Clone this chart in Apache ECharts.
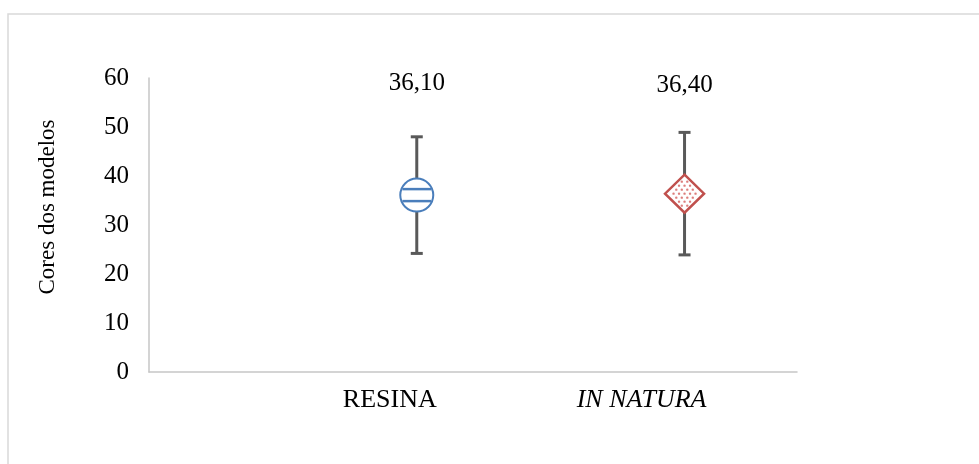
<!DOCTYPE html>
<html>
<head>
<meta charset="utf-8">
<script src="https://cdn.jsdelivr.net/npm/echarts@6/dist/echarts.min.js"></script>
<style>
  html, body { margin: 0; padding: 0; background: #fff; }
  #main { width: 979px; height: 464px; }
</style>
</head>
<body>
<div id="main"></div>
<script>
// dados do gráfico
var categorias = ['RESINA', 'IN NATURA'];
var posicoes = [1, 2];
var medias = [36.10, 36.40];
var minimos = [24.2, 23.9];
var maximos = [48.0, 48.9];
var yTicks = [0, 10, 20, 30, 40, 50, 60];

var serif = "'Times New Roman', 'Liberation Serif', serif";
var myChart = echarts.init(document.getElementById('main'));

var dados = [];
for (var i = 0; i < categorias.length; i++) {
    dados.push([posicoes[i], medias[i], minimos[i], maximos[i]]);
}

function renderItem(params, api) {
    var x = api.value(0);
    var pm = api.coord([x, api.value(1)]);
    var plo = api.coord([x, api.value(2)]);
    var phi = api.coord([x, api.value(3)]);
    var cx = pm[0], cy = pm[1];
    var barStyle = { stroke: '#595959', lineWidth: 3 };
    var children = [
        { type: 'line', shape: { x1: cx, y1: phi[1], x2: cx, y2: plo[1] }, style: barStyle },
        { type: 'line', shape: { x1: cx - 6, y1: phi[1], x2: cx + 6, y2: phi[1] }, style: barStyle },
        { type: 'line', shape: { x1: cx - 6, y1: plo[1], x2: cx + 6, y2: plo[1] }, style: barStyle }
    ];
    if (params.dataIndex === 0) {
        var r = 16.5;
        children.push({ type: 'circle', shape: { cx: cx, cy: cy, r: r },
            style: { fill: '#fff', stroke: '#4a7ebb', lineWidth: 2 } });
        [-6, 6].forEach(function (d) {
            var h = Math.sqrt(r * r - d * d) - 1;
            children.push({ type: 'line', shape: { x1: cx - h, y1: cy + d, x2: cx + h, y2: cy + d },
                style: { stroke: '#4a7ebb', lineWidth: 2.5 } });
        });
    } else {
        var w = 19.5, hh = 19;
        children.push({ type: 'polygon',
            shape: { points: [[cx, cy - hh], [cx + w, cy], [cx, cy + hh], [cx - w, cy]] },
            style: { fill: '#fff', stroke: '#c0504d', lineWidth: 2.5 } });
        for (var j = -4; j <= 4; j++) {
            var off = (j % 2 === 0) ? 0 : 2.75;
            for (var k = -4; k <= 4; k++) {
                var dx = k * 5.5 + off, dy = j * 4;
                if (Math.abs(dx) / w + Math.abs(dy) / hh < 0.8) {
                    children.push({ type: 'circle', shape: { cx: cx + dx, cy: cy + dy, r: 1.2 },
                        style: { fill: '#dc7e7c' } });
                }
            }
        }
    }
    children.push({ type: 'text', x: cx, y: cy - 112 + params.dataIndex * 4,
        style: { text: api.value(1).toFixed(2).replace('.', ','), font: '25px ' + serif,
            fill: '#000', align: 'center', verticalAlign: 'middle' } });
    return { type: 'group', children: children };
}

option = {
    animation: false,
    graphic: [{
        type: 'rect', shape: { x: 8, y: 14, width: 1100, height: 600 },
        style: { fill: 'none', stroke: '#d9d9d9', lineWidth: 1.5 }, silent: true
    }],
    grid: { left: 149, right: 182, top: 78, bottom: 92 },
    xAxis: {
        type: 'value',
        min: 0,
        max: 2.42,
        interval: 1,
        splitLine: { show: false },
        axisTick: { show: false },
        axisLine: { lineStyle: { color: '#c6c6c6', width: 1.5 } },
        axisLabel: {
            showMaxLabel: false,
            margin: 15,
            formatter: function (v) {
                var idx = posicoes.indexOf(v);
                if (idx < 0) return '';
                return (idx === 0 ? '{a|' : '{b|') + categorias[idx] + '}';
            },
            rich: {
                a: { fontFamily: serif, fontSize: 26, color: '#000', padding: [0, 54, 0, 0] },
                b: { fontFamily: serif, fontSize: 26, color: '#000', fontStyle: 'italic', padding: [0, 86, 0, 0] }
            }
        }
    },
    yAxis: {
        type: 'value',
        min: yTicks[0],
        max: yTicks[yTicks.length - 1],
        interval: 10,
        name: 'Cores dos modelos',
        nameLocation: 'middle',
        nameGap: 90,
        nameTextStyle: { fontFamily: serif, fontSize: 23, color: '#000', padding: [0, 0, 0, 36] },
        splitLine: { show: false },
        axisTick: { show: false },
        axisLine: { show: true, lineStyle: { color: '#c6c6c6', width: 1.5 } },
        axisLabel: { fontFamily: serif, fontSize: 25, color: '#000', margin: 20 }
    },
    series: [{
        type: 'custom',
        renderItem: renderItem,
        data: dados,
        z: 5
    }]
};

myChart.setOption(option);
window.onresize = myChart.resize;
</script>
</body>
</html>
